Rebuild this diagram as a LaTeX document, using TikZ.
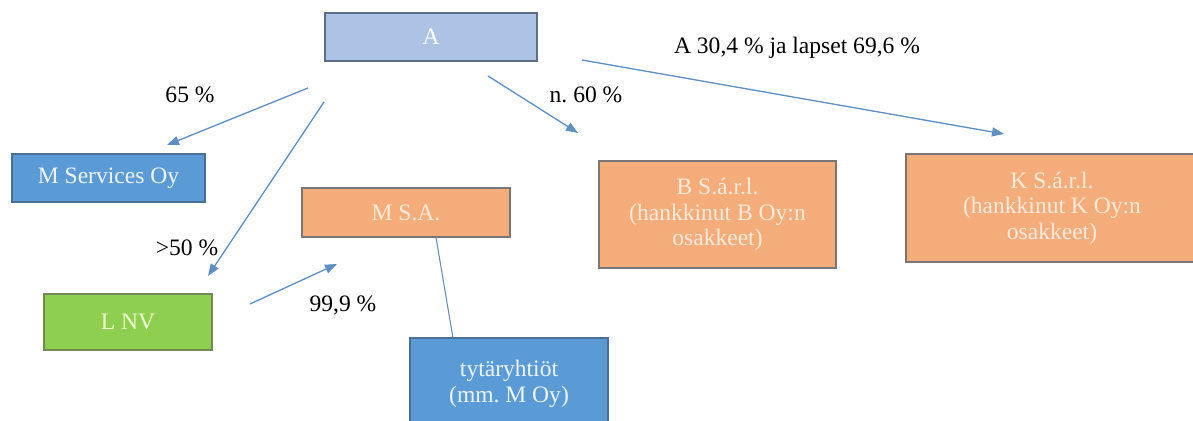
\documentclass[tikz,border=0pt]{standalone}
\usepackage{fontspec}
\setmainfont{Liberation Serif}
\usetikzlibrary{arrows.meta}
\frenchspacing
\definecolor{aFill}{HTML}{ADC3E6}
\definecolor{aLine}{HTML}{5E6E88}
\definecolor{bluFill}{HTML}{5B9BD5}
\definecolor{bluLine}{HTML}{4A6F96}
\definecolor{orFill}{HTML}{F4AC7A}
\definecolor{orLine}{HTML}{777777}
\definecolor{grFill}{HTML}{8FCF4F}
\definecolor{grLine}{HTML}{6E8A57}
\definecolor{arr}{HTML}{5E8FC4}
\definecolor{orText}{HTML}{FCEBDC}
\definecolor{grText}{HTML}{F0FBD2}
\definecolor{bluText}{HTML}{EEF4FB}
\tikzset{
  box/.style={draw, line width=0.8pt, inner sep=0pt, align=center,
    font=\fontsize{13.4}{14.6}\selectfont},
  abox/.style={box, fill=aFill, draw=aLine, text=white},
  bbox/.style={box, fill=bluFill, draw=bluLine, text=bluText},
  obox/.style={box, fill=orFill, draw=orLine, text=orText},
  gbox/.style={box, fill=grFill, draw=grLine, text=grText},
  lbl/.style={font=\fontsize{13.4}{14.2}\selectfont, text=black, inner sep=0pt},
  conn/.style={draw=arr, line width=0.75pt, -{Triangle[length=0.24cm,width=0.18cm]}},
  plain/.style={draw=arr!80!gray, line width=0.6pt}
}
\begin{document}
\begin{tikzpicture}[x=0.02cm,y=-0.02cm]
\useasboundingbox (0,0) rectangle (1193,421);
\clip (0,0) rectangle (1193,421);
\fill[white] (0,0) rectangle (1193,421);
% boxes
\node[abox, minimum width=4.24cm, minimum height=0.96cm] (a) at (431,37) {A};
\node[bbox, minimum width=3.86cm, minimum height=0.96cm] (ms) at (108.5,178) {M Services Oy};
\node[obox, minimum width=4.16cm, minimum height=0.98cm] (msa) at (406,212.5) {M S.A.};
\node[gbox, minimum width=3.36cm, minimum height=1.12cm] (lnv) at (128,322) {L NV};
\node[bbox, minimum width=3.96cm, minimum height=1.84cm] (tyt) at (509,384) {tytäryhtiöt\\(mm. M Oy)};
\node[obox, minimum width=4.74cm, minimum height=2.14cm] (b) at (717.5,214.5) {B S.á.r.l.\\(hankkinut B Oy:n\\osakkeet)};
\node[obox, minimum width=5.84cm, minimum height=2.16cm] (k) at (1052,208) {K S.á.r.l.\\(hankkinut K Oy:n\\osakkeet)};
% labels
\node[lbl] (l65) at (190,95) {65 \%};
\node[lbl] (l60) at (586,95) {n. 60 \%};
\node[lbl] (lk) at (797,48) {A 30,4 \% ja lapset 69,6 \%};
\node[lbl] (l50) at (187,248) {>50 \%};
\node[lbl] (l99) at (343,305) {99,9 \%};
% arrow end points
\coordinate (s1) at (308,88);   \coordinate (e1) at (167,145);
\coordinate (s2) at (324,102);  \coordinate (e2) at (208,276);
\coordinate (s3) at (488,76);   \coordinate (e3) at (578,133);
\coordinate (s4) at (582,60);   \coordinate (e4) at (1004,134);
\coordinate (s5) at (250,304);  \coordinate (e5) at (337,264);
\coordinate (s6) at (436,237.5);  \coordinate (e6) at (453,338);
\draw[conn] (s1) -- (e1);
\draw[conn] (s2) -- (e2);
\draw[conn] (s3) -- (e3);
\draw[conn] (s4) -- (e4);
\draw[conn] (s5) -- (e5);
\draw[plain] (s6) -- (e6);
\end{tikzpicture}
\end{document}
